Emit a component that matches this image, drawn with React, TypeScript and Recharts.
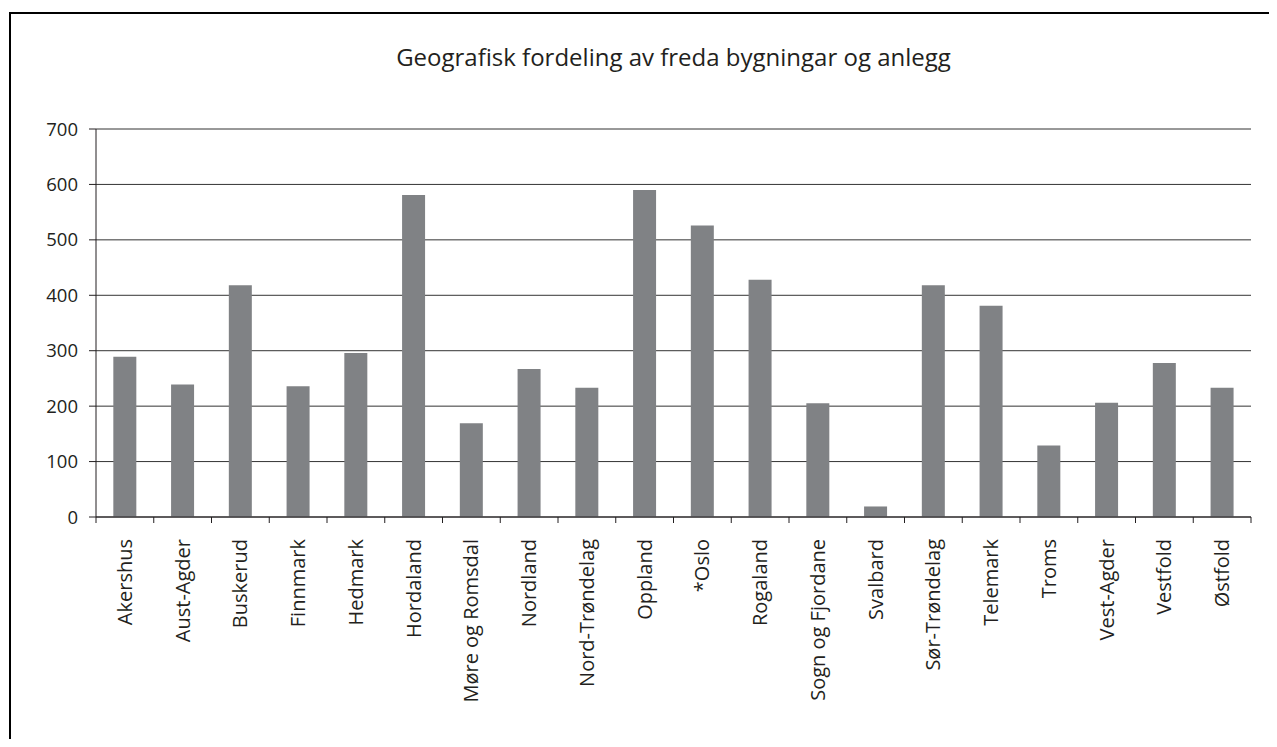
import React from 'react';
import { BarChart, Bar, XAxis, YAxis, CartesianGrid } from 'recharts';

const title = 'Geografisk fordeling av freda bygningar og anlegg';

const categories = [
  'Akershus', 'Aust-Agder', 'Buskerud', 'Finnmark', 'Hedmark', 'Hordaland',
  'Møre og Romsdal', 'Nordland', 'Nord-Trøndelag', 'Oppland', '*Oslo', 'Rogaland',
  'Sogn og Fjordane', 'Svalbard', 'Sør-Trøndelag', 'Telemark', 'Troms',
  'Vest-Agder', 'Vestfold', 'Østfold',
];

const counts = [289, 239, 418, 236, 296, 581, 169, 267, 233, 590, 526, 428, 205, 19, 418, 381, 129, 206, 278, 233];

const yTicks = [0, 100, 200, 300, 400, 500, 600, 700];

const data = categories.map((name, i) => ({ name, value: counts[i] }));
const boundaryTicks = [...categories.map((_, i) => i), categories.length];

const FONT = '"Open Sans", "DejaVu Sans", sans-serif';
const INK = '#231f20';

const CatTick = (props: any) => {
  const { x, y, payload } = props;
  return (
    <text
      x={x}
      y={y}
      transform={`rotate(-90, ${x}, ${y})`}
      textAnchor="end"
      dy="0.35em"
      fontSize={20}
      fill={INK}
      fontFamily={FONT}
    >
      {payload.value}
    </text>
  );
};

export default function App() {
  return (
    <div style={{ position: 'relative', width: 1261, height: 731, overflow: 'hidden', background: '#fff' }}>
      <div
        style={{
          position: 'absolute',
          left: 1,
          top: 4,
          width: 1400,
          height: 900,
          border: '2px solid #000',
          boxSizing: 'border-box',
        }}
      />
      <div
        style={{
          position: 'absolute',
          left: 88,
          width: 1155,
          top: 34,
          textAlign: 'center',
          fontFamily: FONT,
          fontSize: 24,
          lineHeight: '30px',
          color: INK,
        }}
      >
        {title}
      </div>
      <div style={{ position: 'absolute', left: 0, top: 0 }}>
        <BarChart
          width={1261}
          height={731}
          data={data}
          margin={{ top: 121, right: 18, left: 28, bottom: 22 }}
          barCategoryGap="30%"
        >
          <CartesianGrid vertical={false} stroke="#333" strokeWidth={1} />
          <XAxis
            xAxisId="b"
            dataKey="name"
            type="category"
            interval={0}
            height={199}
            tickSize={0}
            tickMargin={21}
            axisLine={false}
            tickLine={false}
            tick={<CatTick />}
          />
          <XAxis
            xAxisId="a"
            type="number"
            dataKey="idx"
            domain={[0, categories.length]}
            ticks={boundaryTicks}
            height={1}
            tickSize={6}
            tickFormatter={() => ''}
            axisLine={{ stroke: INK }}
            tickLine={{ stroke: INK }}
            allowDataOverflow
          />
          <YAxis
            domain={[0, 700]}
            ticks={yTicks}
            width={60}
            tickSize={7}
            tickMargin={11}
            axisLine={{ stroke: INK }}
            tickLine={{ stroke: INK }}
            tick={{ fontSize: 18.5, fill: INK, fontFamily: FONT }}
            interval={0}
          />
          <Bar xAxisId="b" dataKey="value" fill="#808285" isAnimationActive={false} />
        </BarChart>
      </div>
    </div>
  );
}
